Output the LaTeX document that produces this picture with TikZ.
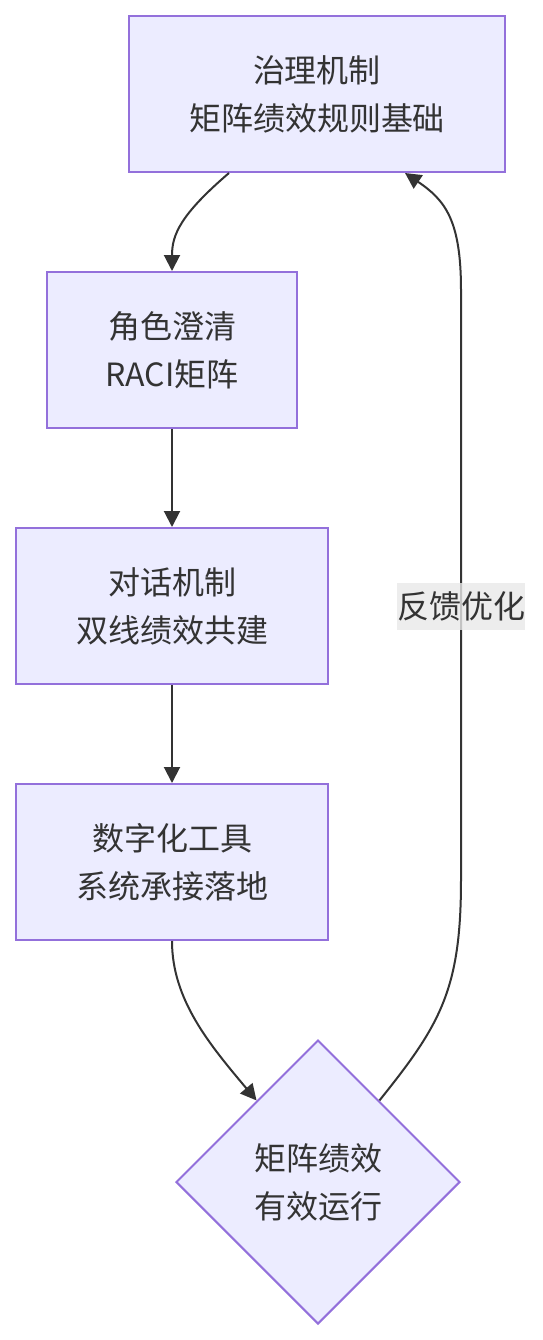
\documentclass[tikz,border=0pt]{standalone}
\usepackage{fontspec}
\setmainfont{Noto Sans CJK SC}
\usepackage{xcolor}
\usepackage{tikz}
\usetikzlibrary{arrows.meta, calc, shapes.geometric}
\definecolor{nodefill}{HTML}{ECECFF}
\definecolor{nodeline}{HTML}{9370DB}
\definecolor{ink}{HTML}{333333}
\definecolor{labelbg}{HTML}{E8E8E8}

\tikzset{
  box/.style={draw=nodeline, fill=nodefill, line width=1pt, text=ink,
    minimum height=78pt, inner sep=0pt, align=center,
    font=\fontsize{16}{24}\selectfont},
  decide/.style={box, diamond, aspect=1, minimum width=142pt, minimum height=142pt},
  flow/.style={draw=ink, line width=1pt, -{Triangle[length=8pt, width=8pt]}},
  tag/.style={fill=labelbg, fill opacity=0.8, text opacity=1, text=ink,
    inner sep=0pt, minimum height=23.5pt, font=\fontsize{16}{24}\selectfont}
}

\begin{document}
\begin{tikzpicture}[x=0.5pt, y=-0.5pt]
  \useasboundingbox (0,0) rectangle (542,1340);
  % nodes, top to bottom
  \node[box, minimum width=188pt] (gov) at (317,94) {治理机制\\矩阵绩效规则基础};
  \node[box, minimum width=125pt] (raci) at (172,350) {角色澄清\\RACI矩阵};
  \node[box, minimum width=156pt] (talk) at (172,606) {对话机制\\双线绩效共建};
  \node[box, minimum width=156pt] (tool) at (172,862) {数字化工具\\系统承接落地};
  \node[decide] (run) at (318,1182) {矩阵绩效\\有效运行};
  % main chain
  \draw[flow] ([xshift=-44pt]gov.south) .. controls (180,215) and (172,235) .. (raci.north);
  \draw[flow] (raci) -- (talk);
  \draw[flow] (talk) -- (tool);
  \draw[flow] (tool.south) .. controls (172,1000) and (210,1045) .. (run.127);
  % feedback loop
  \coordinate (loopdown) at (461,880);
  \coordinate (loopup) at (461,290);
  \draw[flow] (run.53) .. controls (440,1025) and (461,990) .. (loopdown)
    -- node[tag, pos=0.464] (fb) {反馈优化} (loopup)
    .. controls (461,220) and (445,200) .. ([xshift=44pt]gov.south);
\end{tikzpicture}
\end{document}
